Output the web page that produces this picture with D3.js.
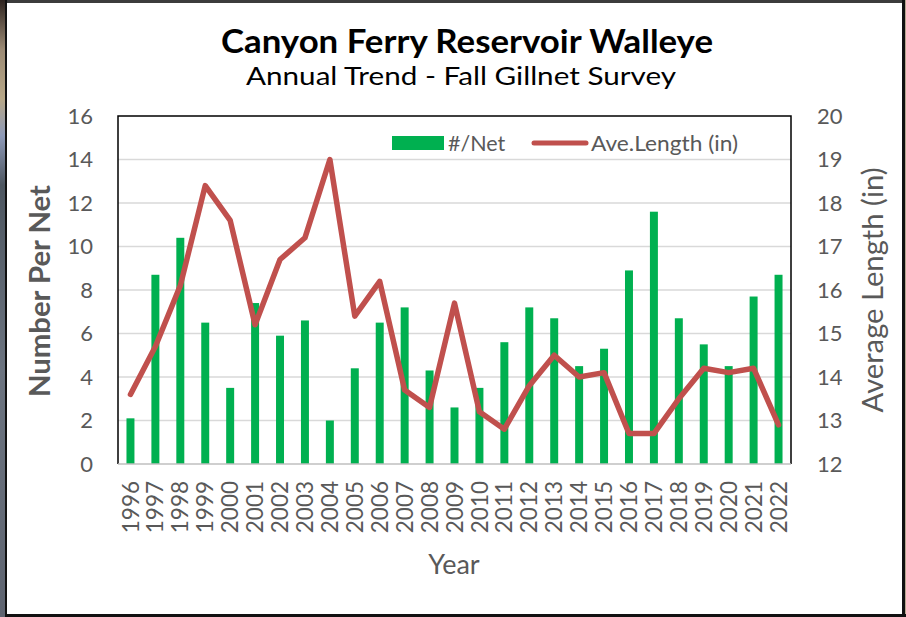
<!DOCTYPE html>
<html>
<head>
<meta charset="utf-8">
<script src="https://cdn.jsdelivr.net/npm/d3@7"></script>
<style>
  body { margin: 0; background: #fff; }
  svg { display: block; }
  text { font-family: Lato, "Open Sans", sans-serif; }
</style>
</head>
<body>
<svg id="chart" width="906" height="617"></svg>
<script>
// chart data
const years = ['1996', '1997', '1998', '1999', '2000', '2001', '2002', '2003', '2004',
               '2005', '2006', '2007', '2008', '2009', '2010', '2011', '2012', '2013',
               '2014', '2015', '2016', '2017', '2018', '2019', '2020', '2021', '2022'];
const perNet = [2.1, 8.7, 10.4, 6.5, 3.5, 7.4, 5.9, 6.6, 2.0,
                4.4, 6.5, 7.2, 4.3, 2.6, 3.5, 5.6, 7.2, 6.7,
                4.5, 5.3, 8.9, 11.6, 6.7, 5.5, 4.5, 7.7, 8.7];
const aveLength = [13.6, 14.7, 16.1, 18.4, 17.6, 15.2, 16.7, 17.2, 19.0,
                   15.4, 16.2, 13.7, 13.3, 15.7, 13.2, 12.8, 13.8, 14.5,
                   14.0, 14.1, 12.7, 12.7, 13.5, 14.2, 14.1, 14.2, 12.9];
const leftTicks = [0, 2, 4, 6, 8, 10, 12, 14, 16];
const rightTicks = [12, 13, 14, 15, 16, 17, 18, 19, 20];
const seriesNames = ['#/Net', 'Ave.Length (in)'];

const WIDTH = 906,
      HEIGHT = 617,
      LEFT = 118,
      RIGHT = 791,
      TOP = 116,
      BOTTOM = 464,
      BAR_COLOR = '#00b050',
      LINE_COLOR = '#c0504d',
      TEXT_GRAY = '#595959';

const svg = d3.select('#chart');

// frame around the picture (photo strip on the left, dark edges)
const grad = svg.append('defs').append('linearGradient')
    .attr('id', 'strip').attr('x1', 0).attr('y1', 0).attr('x2', 0).attr('y2', 1);
[['0%', '#2e2420'], ['8%', '#9b8a74'], ['16%', '#b8a888'], ['22%', '#8e9ab8'],
 ['30%', '#4d5660'], ['60%', '#6c7480'], ['100%', '#5e6470']].forEach(s =>
    grad.append('stop').attr('offset', s[0]).attr('stop-color', s[1]));

svg.append('rect').attr('width', WIDTH).attr('height', HEIGHT).attr('fill', '#fff');
svg.append('rect').attr('x', 0).attr('y', 0).attr('width', 6).attr('height', HEIGHT).attr('fill', 'url(#strip)');
svg.append('rect').attr('x', 5).attr('y', 0).attr('width', 2).attr('height', HEIGHT).attr('fill', '#111');
svg.append('rect').attr('x', 7).attr('y', 0).attr('width', WIDTH - 7).attr('height', 3).attr('fill', '#3c3c3c');
svg.append('rect').attr('x', 902).attr('y', 0).attr('width', 3).attr('height', HEIGHT).attr('fill', '#111');
svg.append('rect').attr('x', 905).attr('y', 0).attr('width', 1).attr('height', HEIGHT).attr('fill', '#b8a890');
svg.append('rect').attr('x', 5).attr('y', 614).attr('width', WIDTH - 5).attr('height', 3).attr('fill', '#111');

// scales
const x = d3.scaleBand()
    .domain(years)
    .range([LEFT, RIGHT])
    .paddingInner(0.68)
    .paddingOuter(0.34);

const yLeft = d3.scaleLinear().domain([0, 16]).range([BOTTOM, TOP]);
const yRight = d3.scaleLinear().domain([12, 20]).range([BOTTOM, TOP]);

// gridlines
svg.append('g')
    .selectAll('line')
    .data(leftTicks.filter(d => d > 0 && d < 16))
    .enter()
    .append('line')
    .attr('x1', LEFT).attr('x2', RIGHT)
    .attr('y1', d => yLeft(d)).attr('y2', d => yLeft(d))
    .style('stroke', '#d9d9d9')
    .style('stroke-width', 1.5);

// bars
svg.append('g')
    .selectAll('rect')
    .data(perNet)
    .enter()
    .append('rect')
    .attr('x', (d, i) => x(years[i]))
    .attr('y', d => yLeft(d))
    .attr('width', x.bandwidth())
    .attr('height', d => yLeft(0) - yLeft(d))
    .attr('fill', BAR_COLOR);

// line
const line = d3.line()
    .x((d, i) => x(years[i]) + x.bandwidth() / 2)
    .y(d => yRight(d));

svg.append('path')
    .datum(aveLength)
    .attr('d', line)
    .attr('fill', 'none')
    .style('stroke', LINE_COLOR)
    .style('stroke-width', 5.5)
    .style('stroke-linejoin', 'round')
    .style('stroke-linecap', 'round');

// plot border
svg.append('path')
    .attr('d', `M${LEFT},${BOTTOM}V${TOP}H${RIGHT}V${BOTTOM}`)
    .attr('fill', 'none')
    .style('stroke', '#000')
    .style('stroke-width', 1.5);
svg.append('line')
    .attr('x1', LEFT).attr('x2', RIGHT)
    .attr('y1', BOTTOM).attr('y2', BOTTOM)
    .style('stroke', '#bfbfbf')
    .style('stroke-width', 1.5);

// axes
const leftAxis = svg.append('g')
    .attr('transform', `translate(${LEFT},0)`)
    .call(d3.axisLeft(yLeft).tickValues(leftTicks).tickSize(0).tickPadding(25));
leftAxis.select('.domain').remove();
leftAxis.selectAll('text')
    .style('font-family', 'Lato, sans-serif')
    .style('font-size', '22px')
    .attr('fill', TEXT_GRAY);

const rightAxis = svg.append('g')
    .attr('transform', `translate(${RIGHT},0)`)
    .call(d3.axisRight(yRight).tickValues(rightTicks).tickSize(0).tickPadding(26));
rightAxis.select('.domain').remove();
rightAxis.selectAll('text')
    .style('font-family', 'Lato, sans-serif')
    .style('font-size', '22px')
    .attr('fill', TEXT_GRAY);

const bottomAxis = svg.append('g')
    .attr('transform', `translate(0,${BOTTOM})`)
    .call(d3.axisBottom(x).tickSize(0));
bottomAxis.select('.domain').remove();
bottomAxis.selectAll('text')
    .attr('transform', 'rotate(-90)')
    .attr('x', -17)
    .attr('y', 0)
    .attr('dy', '0.36em')
    .style('text-anchor', 'end')
    .style('font-family', 'Lato, sans-serif')
    .style('font-size', '22.5px')
    .attr('fill', TEXT_GRAY);

// titles
svg.append('text')
    .attr('x', 467).attr('y', 53)
    .attr('text-anchor', 'middle')
    .attr('textLength', 492).attr('lengthAdjust', 'spacingAndGlyphs')
    .style('font-size', '32px')
    .style('font-weight', 'bold')
    .attr('fill', '#000')
    .text('Canyon Ferry Reservoir Walleye');

svg.append('text')
    .attr('x', 461).attr('y', 85)
    .attr('text-anchor', 'middle')
    .attr('textLength', 430).attr('lengthAdjust', 'spacingAndGlyphs')
    .style('font-size', '25px')
    .attr('fill', '#000')
    .text('Annual Trend - Fall Gillnet Survey');

svg.append('text')
    .attr('transform', 'translate(50,291) rotate(-90)')
    .attr('text-anchor', 'middle')
    .attr('textLength', 212).attr('lengthAdjust', 'spacingAndGlyphs')
    .style('font-size', '28px')
    .style('font-weight', 'bold')
    .attr('fill', TEXT_GRAY)
    .text('Number Per Net');

svg.append('text')
    .attr('transform', 'translate(883,290) rotate(-90)')
    .attr('text-anchor', 'middle')
    .attr('textLength', 245).attr('lengthAdjust', 'spacingAndGlyphs')
    .style('font-size', '28px')
    .attr('fill', TEXT_GRAY)
    .text('Average Length (in)');

svg.append('text')
    .attr('x', 454).attr('y', 574)
    .attr('text-anchor', 'middle')
    .style('font-size', '27px')
    .attr('fill', TEXT_GRAY)
    .text('Year');

// legend
const legend = svg.append('g');
legend.append('rect')
    .attr('x', 392).attr('y', 136)
    .attr('width', 52).attr('height', 14)
    .attr('fill', BAR_COLOR);
legend.append('text')
    .attr('x', 448).attr('y', 151)
    .style('font-size', '21.5px')
    .attr('fill', TEXT_GRAY)
    .text(seriesNames[0]);
legend.append('line')
    .attr('x1', 534).attr('x2', 586)
    .attr('y1', 143).attr('y2', 143)
    .style('stroke', LINE_COLOR)
    .style('stroke-width', 5)
    .style('stroke-linecap', 'round');
legend.append('text')
    .attr('x', 591).attr('y', 151)
    .attr('textLength', 147).attr('lengthAdjust', 'spacingAndGlyphs')
    .style('font-size', '22px')
    .attr('fill', TEXT_GRAY)
    .text(seriesNames[1]);
</script>
</body>
</html>
